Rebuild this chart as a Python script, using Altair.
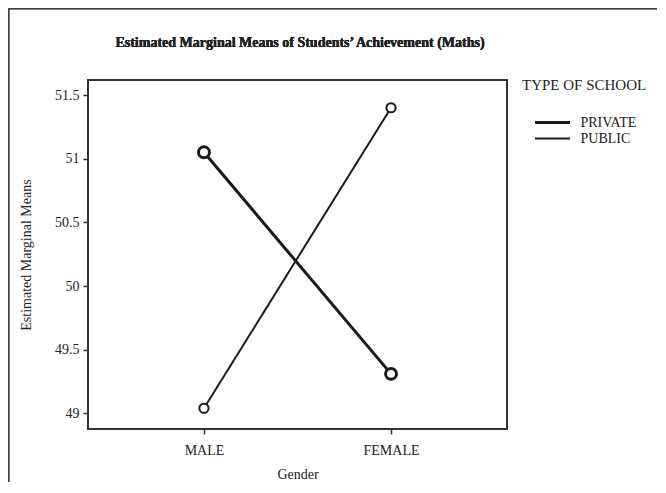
import altair as alt
import pandas as pd

gender = ["MALE", "FEMALE"]
school = ["PRIVATE", "PUBLIC"]
private_means = [51.05, 49.31]
public_means = [49.04, 51.40]
y_ticks = [49, 49.5, 50, 50.5, 51, 51.5]
title_text = "Estimated Marginal Means of Students\u2019 Achievement (Maths)"

rows = []
for g, v in zip(gender, private_means):
    rows.append({"Gender": g, "School": "PRIVATE", "Mean": v})
for g, v in zip(gender, public_means):
    rows.append({"Gender": g, "School": "PUBLIC", "Mean": v})
df = pd.DataFrame(rows)

FONT = "Liberation Serif"
INK = "#1a1a1a"

x = alt.X("Gender:N", sort=gender, scale=alt.Scale(type="point", padding=0.62),
          axis=alt.Axis(title="Gender", labelAngle=0, tickSize=5, labelPadding=9,
                        titlePadding=10))
y = alt.Y("Mean:Q", scale=alt.Scale(domain=[48.877, 51.618], nice=False, zero=False),
          axis=alt.Axis(title="Estimated Marginal Means", values=y_ticks, format="~g",
                        tickSize=5, labelPadding=4, titlePadding=21))

sw_scale = alt.Scale(domain=school, range=[3, 2])

lines = alt.Chart(df).mark_line(color=INK).encode(
    x=x, y=y,
    detail="School:N",
    strokeWidth=alt.StrokeWidth("School:N", scale=sw_scale,
                                legend=alt.Legend(title="TYPE OF SCHOOL", orient="none",
                                                  legendX=434, legendY=-2.5, padding=0,
                                                  symbolType="M-3.5,0H3.5", symbolSize=100,
                                                  symbolStrokeColor=INK,
                                                  symbolFillColor="transparent",
                                                  symbolOffset=23.5,
                                                  titleFontSize=15, titleFontWeight="normal",
                                                  titlePadding=23, labelFontSize=14,
                                                  rowPadding=2, labelOffset=21)),
)

pt_private = alt.Chart(df).transform_filter(alt.datum.School == "PRIVATE").mark_point(
    filled=False, fill="white", color=INK, opacity=1, strokeWidth=3, size=120).encode(x=x, y=y)
pt_public = alt.Chart(df).transform_filter(alt.datum.School == "PUBLIC").mark_point(
    filled=False, fill="white", color=INK, opacity=1, strokeWidth=2, size=85).encode(x=x, y=y)

left_border = alt.Chart(df).mark_rule(color="#444", strokeWidth=1.5).encode(
    x=alt.value(-79.5), y=alt.value(-72), y2=alt.value(410))
top_border = alt.Chart(df).mark_rule(color="#444", strokeWidth=1.5).encode(
    x=alt.value(-80), x2=alt.value(570), y=alt.value(-71.5))
title = alt.Chart(df).mark_text(font=FONT, fontSize=14, fontWeight="bold", color="#222",
                                baseline="middle", align="center").encode(
    x=alt.value(212), y=alt.value(-37), text=alt.value(title_text))

chart = alt.layer(left_border, top_border, title, lines, pt_private, pt_public).properties(
    width=419, height=349,
    autosize=alt.AutoSizeParams(type="none"),
    padding={"left": 80, "top": 72, "right": 150, "bottom": 53},
).configure_view(
    stroke="#333", strokeWidth=2
).configure_axis(
    labelFont=FONT, titleFont=FONT, labelFontSize=14, titleFontSize=14,
    labelColor="#222", titleColor="#222", tickColor="#333", domain=False, grid=False,
    titleFontWeight="normal", tickWidth=1.5
).configure_legend(
    labelFont=FONT, titleFont=FONT, labelColor="#222", titleColor="#222"
)

chart.save("out.html", embed_options={"renderer": "svg", "actions": False})
